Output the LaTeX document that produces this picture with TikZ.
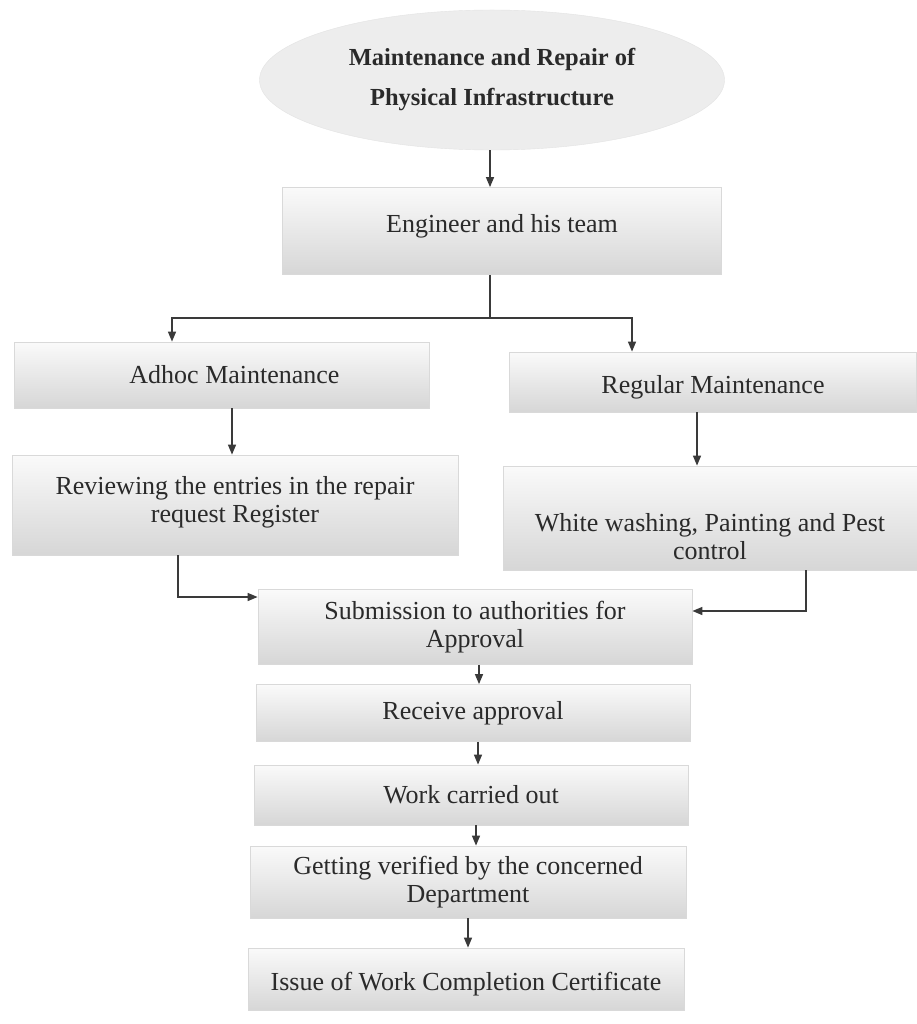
\documentclass[tikz,border=0pt]{standalone}
\usepackage{fontspec}
\setmainfont{Liberation Serif}
\usetikzlibrary{arrows.meta,calc,shapes.geometric}
\definecolor{inkc}{HTML}{2A2A2A}
\definecolor{arrc}{HTML}{3A3A3A}
\tikzset{
  pbox/.style={rectangle, draw=gray!30, line width=0.8pt, top color=gray!4, bottom color=gray!32,
    align=center, text=inkc, font=\fontsize{26}{28}\selectfont, inner sep=2pt},
  btxt/.style={align=center, text=inkc, font=\fontsize{26}{28}\selectfont, inner sep=0pt},
  oval/.style={ellipse, draw=gray!22, fill=gray!14, align=center, text=inkc,
    font=\bfseries\fontsize{24.5}{40}\selectfont, inner sep=0pt},
  conn/.style={draw=arrc, line width=1.4pt},
  arr/.style={conn, -{Triangle[length=10pt,width=8pt]}}
}
\begin{document}
\begin{tikzpicture}[x=1pt,y=-1pt]
\useasboundingbox (0,0) rectangle (917,1024);
\fill[white] (0,0) rectangle (917,1024);

\node[oval, minimum width=465pt, minimum height=140pt] (top) at (492,80)
  {Maintenance and Repair of\\Physical Infrastructure};
\node[pbox, minimum width=439pt, minimum height=87pt,
  label={[btxt, yshift=5pt]center:Engineer and his team}] (eng) at (502,231) {};
\node[pbox, minimum width=415pt, minimum height=66pt] (adhoc) at (222,375) {\hspace*{25pt}Adhoc Maintenance};
\node[pbox, minimum width=407pt, minimum height=60pt,
  label={[btxt, yshift=-5pt]center:Regular Maintenance}] (reg) at (713,382) {};
\node[pbox, minimum width=446pt, minimum height=100pt,
  label={[btxt, yshift=3pt]center:{Reviewing the entries in the repair\\request Register}}] (review) at (235,505) {};
\node[pbox, minimum width=414pt, minimum height=104pt,
  label={[btxt, yshift=-19pt]center:{White washing, Painting and Pest\\control}}] (white) at (710,518) {};
\node[pbox, minimum width=434pt, minimum height=75pt] (sub) at (475,627)
  {Submission to authorities for\\Approval};
\node[pbox, minimum width=434pt, minimum height=57pt] (recv) at (473,713) {Receive approval};
\node[pbox, minimum width=434pt, minimum height=60pt] (work) at (471,795) {Work carried out};
\node[pbox, minimum width=436pt, minimum height=72pt] (verify) at (468,882)
  {Getting verified by the concerned\\Department};
\node[pbox, minimum width=436pt, minimum height=62pt,
  label={[btxt, yshift=-5pt]center:Issue of Work Completion Certificate}] (issue) at (466,979) {};

\path ($(top.south)+(-2,0)$) coordinate (s1)
      ($(eng.south)+(-12,0)$) coordinate (s2)
      ($(adhoc.north)+(-50,0)$) coordinate (e2a)
      ($(reg.north)+(-81,0)$) coordinate (e2b)
      ($(adhoc.south)+(10,0)$) coordinate (s3)
      ($(reg.south)+(-16,0)$) coordinate (s4)
      ($(review.south)+(-57,0)$) coordinate (s5)
      ($(white.south)+(96,0)$) coordinate (s6)
      ($(sub.west)+(0,-30)$) coordinate (e5)
      ($(sub.east)+(0,-16)$) coordinate (e6)
      ($(sub.south)+(4,0)$) coordinate (s7)
      ($(recv.south)+(5,0)$) coordinate (s8)
      ($(work.south)+(5,0)$) coordinate (s9)
      (verify.south) coordinate (s10);

\draw[arr] (s1) -- (s1 |- eng.north);
\draw[conn] (s2) -- ++(0,43) coordinate (j);
\draw[arr] (j) -| (e2a);
\draw[arr] (j) -| (e2b);
\draw[arr] (s3) -- (s3 |- review.north);
\draw[arr] (s4) -- (s4 |- white.north);
\draw[arr] (s5) |- (e5);
\draw[arr] (s6) |- (e6);
\draw[arr] (s7) -- (s7 |- recv.north);
\draw[arr] (s8) -- (s8 |- work.north);
\draw[arr] (s9) -- (s9 |- verify.north);
\draw[arr] (s10) -- (s10 |- issue.north);
\end{tikzpicture}
\end{document}
